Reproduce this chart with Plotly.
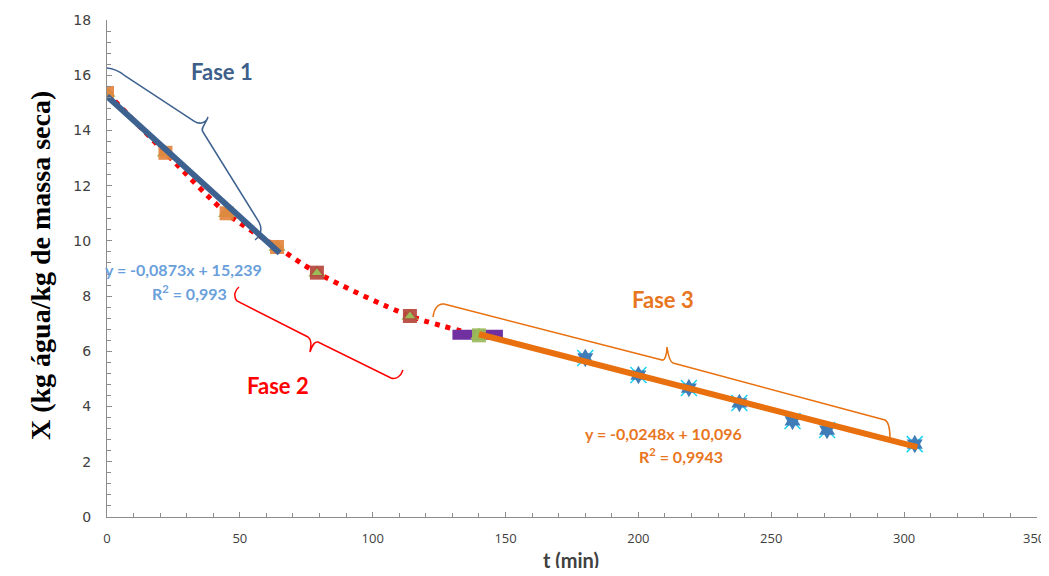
import plotly.graph_objects as go

# ---------------- data ----------------
t_fase12 = [0, 22, 45, 64, 79, 114, 140]
X_fase12 = [15.36, 13.19, 11.0, 9.78, 8.85, 7.28, 6.58]

t_fase3 = [180, 200, 219, 238, 258, 271, 304]
X_fase3 = [5.76, 5.14, 4.67, 4.13, 3.48, 3.15, 2.64]

t_trend1 = [0, 65]
X_trend1 = [15.24, 9.56]
t_trend3 = [140, 305]
X_trend3 = [6.62, 2.53]

t_purple = [130, 149]
X_purple = [6.6, 6.6]

x_ticks = [0, 50, 100, 150, 200, 250, 300, 350]
y_ticks = [0, 2, 4, 6, 8, 10, 12, 14, 16, 18]

eq1 = "y = -0,0873x + 15,239"
r1 = "R<sup>2</sup> = 0,993"
eq3 = "y = -0,0248x + 10,096"
r3 = "R<sup>2</sup> = 0,9943"

# ---------------- layout geometry ----------------
OFF = 8  # page body margin
W, H = 1049 - OFF, 576 - 2 * OFF
L, R, T = 107 - OFF, 12, 20 - OFF
B = (OFF + H) - 517
PW, PH = W - L - R, H - T - B
XMAX, YMAX = 350, 18
X0PX, Y0PX = L + OFF, T + OFF + PH  # screen pixel of data origin


def px2d(px, py):
    return (px - X0PX) / PW * XMAX, (Y0PX - py) / PH * YMAX


def path_from_px(cmds):
    out = []
    for c in cmds:
        if isinstance(c, str):
            out.append(c)
        else:
            x, y = px2d(*c)
            out.append(f"{x:.3f},{y:.3f}")
    return " ".join(out)


def pp(px, py):
    return (px - X0PX) / PW, (Y0PX - py) / PH


fig = go.Figure()

# red dotted smooth curve
fig.add_trace(go.Scatter(x=t_fase12, y=X_fase12, mode="lines",
                         line=dict(color="#FF0000", width=5, dash="5px,6px", shape="spline", smoothing=0.8),
                         hoverinfo="skip", showlegend=False))

# purple bar
fig.add_trace(go.Scatter(x=t_purple, y=X_purple, mode="lines",
                         line=dict(color="#7030A0", width=10), showlegend=False))

# phase 1-2 markers
fig.add_trace(go.Scatter(x=t_fase12, y=X_fase12, mode="markers",
                         marker=dict(symbol="triangle-up", size=15, color="#9BBB59"),
                         showlegend=False))
fig.add_trace(go.Scatter(x=t_fase12, y=X_fase12, mode="markers",
                         marker=dict(symbol="square", size=14,
                                     color=["#E3843E", "#E3843E", "#E3843E", "#E3843E",
                                            "#B5473D", "#B5473D", "#9BBB59"],
                                     opacity=0.92),
                         showlegend=False))
fig.add_trace(go.Scatter(x=t_fase12[4:6], y=X_fase12[4:6], mode="markers",
                         marker=dict(symbol="triangle-up", size=9, color="#9BBB59"),
                         showlegend=False))

# phase 3 markers
fig.add_trace(go.Scatter(x=t_fase3, y=X_fase3, mode="markers",
                         marker=dict(symbol="x-thin-open", size=16, line=dict(color="#8DB3E2", width=1.5)),
                         showlegend=False))
fig.add_trace(go.Scatter(x=t_fase3, y=X_fase3, mode="markers",
                         marker=dict(symbol="hexagram", size=14, color="#3F7CB8"),
                         showlegend=False))

# trend lines
fig.add_trace(go.Scatter(x=t_trend1, y=X_trend1, mode="lines",
                         line=dict(color="#3E6290", width=6), showlegend=False))
fig.add_trace(go.Scatter(x=t_trend3, y=X_trend3, mode="lines",
                         line=dict(color="#E8700F", width=6), showlegend=False))

# braces (defined in screen pixels, converted to data units)
brace1 = ["M", (87, 79), "C", (90, 66), (110, 64), (124, 75), "L", (194, 121),
          "C", (200, 125), (206, 123), (208, 117),
          "C", (206, 124), (200, 128), (203, 132), "L", (259, 222),
          "C", (263, 230), (260, 236), (255, 240)]
brace2 = ["M", (239, 287), "C", (235, 290), (233, 296), (237, 301), "L", (308, 337),
          "C", (312, 340), (311, 346), (310, 352),
          "C", (312, 346), (314, 341), (318, 342), "L", (391, 378),
          "C", (396, 380), (401, 376), (403, 370)]
brace3 = ["M", (433, 317), "C", (434, 309), (438, 303), (444, 304), "L", (662, 360),
          "C", (665, 361), (667, 354), (667, 347),
          "C", (668, 354), (670, 362), (673, 363), "L", (885, 420),
          "C", (889, 422), (890, 430), (890, 438)]
for br, col in [(brace1, "#3E6290"), (brace2, "#FF0000"), (brace3, "#E8700F")]:
    fig.add_shape(type="path", path=path_from_px(br), xref="x", yref="y",
                  line=dict(color=col, width=1.5), layer="above")

annos = []


def add_text(text, px, py, color, size, family="Lato", bold=True, angle=0, xanchor="center"):
    x, y = pp(px, py)
    annos.append(dict(text=f"<b>{text}</b>" if bold else text, x=x, y=y, xref="paper", yref="paper",
                      showarrow=False, font=dict(color=color, size=size, family=family),
                      xanchor=xanchor, yanchor="middle", textangle=angle))


add_text("Fase 1", 222, 71, "#3F5F8B", 22)
add_text("Fase 2", 278, 386, "#FF0000", 22)
add_text("Fase 3", 663, 299, "#E8761E", 22)
add_text(eq1, 183, 269, "#6A9FDB", 16)
add_text(r1, 189, 292, "#6A9FDB", 16)
add_text(eq3, 663, 433, "#E8761E", 16)
add_text(r3, 681, 455, "#E8761E", 16)
add_text("X (kg água/kg de massa seca)", 40, 266, "#000000", 28, family="Liberation Serif", angle=-90)
add_text("t (min)", 571, 560, "#404040", 20)
# last x tick label placed so it is not clipped at the page edge
add_text(str(x_ticks[-1]), 1047, 538, "#404040", 13, family="Open Sans", bold=False, xanchor="right")

axis_common = dict(showgrid=False, zeroline=False, showline=True, linecolor="#8C8C8C", linewidth=1,
                   ticks="inside", ticklen=5, tickcolor="#8C8C8C", tickwidth=1, mirror=False,
                   automargin=False, ticklabeloverflow="allow")

fig.update_layout(
    width=W, height=H,
    margin=dict(l=L, r=R, t=T, b=B, autoexpand=False),
    plot_bgcolor="white", paper_bgcolor="white",
    showlegend=False,
    annotations=annos,
    xaxis=dict(range=[0, XMAX + 0.01], tickvals=x_ticks,
               ticktext=[str(v) for v in x_ticks[:-1]] + [""],
               tickfont=dict(family="Open Sans", size=13, color="#404040"),
               ticklabelstandoff=9,
               minor=dict(dtick=10, ticks="inside", ticklen=4, tickcolor="#8C8C8C"),
               **axis_common),
    yaxis=dict(range=[0, YMAX + 0.001], tickvals=y_ticks, ticktext=[str(v) for v in y_ticks],
               tickfont=dict(family="DejaVu Sans", size=14, color="#404040"),
               ticklabelstandoff=12,
               minor=dict(dtick=0.4, ticks="inside", ticklen=4, tickcolor="#8C8C8C"),
               **axis_common),
)

fig.write_html("out.html")
